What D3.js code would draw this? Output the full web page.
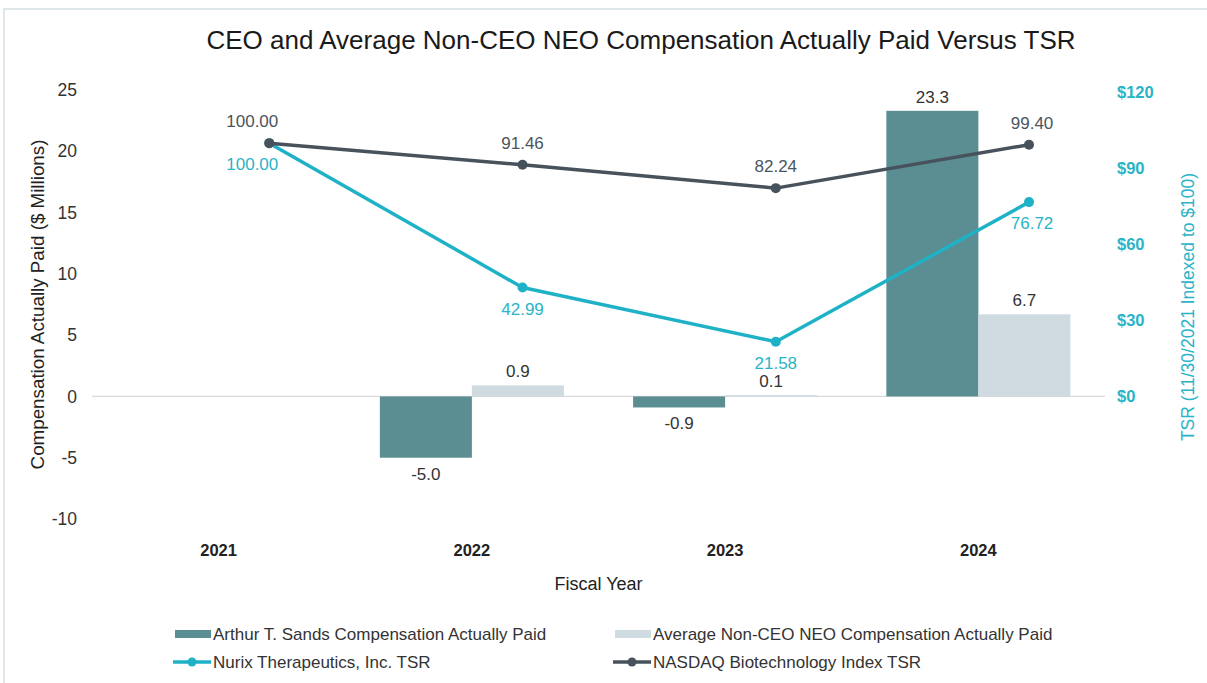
<!DOCTYPE html>
<meta charset="utf-8">
<script src="https://d3js.org/d3.v7.min.js"></script>
<style>
  body { margin: 0; background: #fff; }
  svg { font-family: Arial, "Liberation Sans", sans-serif; }
  .axis .domain { display: none; }
  .yl .tick text { font-size: 17.5px; fill: #333; }
  .yr .tick text { font-size: 16.5px; fill: #2bb3c7; font-weight: bold; }
  .xa .tick text { font-size: 16.5px; fill: #222; font-weight: bold; }
</style>
<div id="chart"></div>
<script>
  // data
  const years = ["2021", "2022", "2023", "2024"];
  const ceoCap = [null, -5.0, -0.9, 23.3];
  const neoCap = [null, 0.9, 0.1, 6.7];
  const nurixTsr = [100.00, 42.99, 21.58, 76.72];
  const nasdaqTsr = [100.00, 91.46, 82.24, 99.40];
  const leftTicks = [-10, -5, 0, 5, 10, 15, 20, 25];
  const rightTicks = [0, 30, 60, 90, 120];

  const W = 1207, H = 683;
  const plot = { left: 92, right: 1105, top: 90, bottom: 519 };

  // hyphen instead of unicode minus, like the original
  const f1 = v => v.toFixed(1);
  const f2 = v => v.toFixed(2);

  const svg = d3.select("#chart").append("svg")
      .attr("width", W)
      .attr("height", H);

  // outer frame
  svg.append("rect")
    .attr("x", 4).attr("y", 9)
    .attr("width", 1240).attr("height", 700)
    .attr("fill", "none")
    .attr("stroke", "#d6e0e3")
    .attr("stroke-width", 1.5);

  svg.append("text")
    .attr("x", 641).attr("y", 49)
    .attr("text-anchor", "middle")
    .attr("font-size", 26)
    .attr("fill", "#1a1a1a")
    .text("CEO and Average Non-CEO NEO Compensation Actually Paid Versus TSR");

  const x = d3.scaleBand().domain(years).range([plot.left, plot.right]);
  const sub = d3.scaleBand().domain(["ceo", "neo"]).range([0, x.bandwidth()]).paddingOuter(0.376);
  const y = d3.scaleLinear().domain([-10, 25]).range([plot.bottom, plot.top]);
  const y2 = d3.scaleLinear().domain([0, 120]).range([y(0), 92.5]);
  const lx = d => x(d) + x.bandwidth() * 0.7;

  // axes
  svg.append("g").attr("class", "axis yl")
    .attr("transform", `translate(${plot.left - 15},0)`)
    .call(d3.axisLeft(y).tickValues(leftTicks).tickSize(0).tickPadding(0).tickFormat(d => String(d)));

  svg.append("g").attr("class", "axis yr")
    .attr("transform", `translate(${plot.right + 12},0)`)
    .call(d3.axisRight(y2).tickValues(rightTicks).tickSize(0).tickPadding(0).tickFormat(d => "$" + d));

  svg.append("g").attr("class", "axis xa")
    .attr("transform", `translate(0,${y(-10) + 25})`)
    .call(d3.axisBottom(x).tickSize(0).tickPadding(0));

  // zero line
  svg.append("line")
    .attr("x1", plot.left).attr("x2", plot.right)
    .attr("y1", y(0)).attr("y2", y(0))
    .attr("stroke", "#d9d9d9").attr("stroke-width", 1.2);

  // axis titles
  svg.append("text")
    .attr("transform", `translate(44,${(y(25) + y(-10)) / 2}) rotate(-90)`)
    .attr("text-anchor", "middle")
    .attr("font-size", 18.8).attr("fill", "#222")
    .text("Compensation Actually Paid ($ Millions)");

  svg.append("text")
    .attr("transform", `translate(1194,307) rotate(-90)`)
    .attr("text-anchor", "middle")
    .attr("font-size", 17.5).attr("fill", "#2bb3c7")
    .text("TSR (11/30/2021 Indexed to $100)");

  svg.append("text")
    .attr("x", (plot.left + plot.right) / 2).attr("y", 590)
    .attr("text-anchor", "middle")
    .attr("font-size", 18).attr("fill", "#222")
    .text("Fiscal Year");

  // bars
  const barData = [];
  years.forEach((yr, i) => {
    if (ceoCap[i] != null) barData.push({ yr, key: "ceo", v: ceoCap[i] });
    if (neoCap[i] != null) barData.push({ yr, key: "neo", v: neoCap[i] });
  });
  const barColor = { ceo: "#5a8e93", neo: "#cfdbe0" };

  svg.append("g").selectAll("rect")
    .data(barData)
    .join("rect")
      .attr("x", d => x(d.yr) + sub(d.key))
      .attr("width", sub.bandwidth())
      .attr("y", d => y(Math.max(0, d.v)))
      .attr("height", d => Math.abs(y(d.v) - y(0)))
      .attr("fill", d => barColor[d.key]);

  svg.append("g").selectAll("text")
    .data(barData)
    .join("text")
      .attr("x", d => x(d.yr) + sub(d.key) + sub.bandwidth() / 2)
      .attr("y", d => d.v >= 0 ? y(d.v) - 8 : y(d.v) + 22)
      .attr("text-anchor", "middle")
      .attr("font-size", 17).attr("fill", "#333")
      .text(d => f1(d.v));

  // lines
  const series = [
    { vals: nasdaqTsr, color: "#47525c", labelColor: "#4a5560", dy: -16 },
    { vals: nurixTsr, color: "#1fb2c7", labelColor: "#2bb3c7", dy: 27 }
  ];
  const line = d3.line().x(d => lx(d.yr)).y(d => y2(d.v));

  // nurix first so nasdaq sits on top
  [series[1], series[0]].forEach(s => {
    const pts = years.map((yr, i) => ({ yr, v: s.vals[i] }));
    svg.append("path")
      .datum(pts)
      .attr("d", line)
      .attr("fill", "none")
      .attr("stroke", s.color)
      .attr("stroke-width", 3.5)
      .attr("stroke-linejoin", "round");
    svg.append("g").selectAll("circle")
      .data(pts)
      .join("circle")
        .attr("cx", d => lx(d.yr))
        .attr("cy", d => y2(d.v))
        .attr("r", 5)
        .attr("fill", s.color);
  });

  series.forEach(s => {
    svg.append("g").selectAll("text")
      .data(years.map((yr, i) => ({ yr, v: s.vals[i] })))
      .join("text")
        .attr("x", (d, i) => lx(d.yr) + (i === 0 ? -17 : i === 3 ? 3 : 0))
        .attr("y", d => y2(d.v) + s.dy)
        .attr("text-anchor", "middle")
        .attr("font-size", 17).attr("fill", s.labelColor)
        .text(d => f2(d.v));
  });

  // legend
  const legend = [
    { name: "Arthur T. Sands Compensation Actually Paid", type: "bar", color: "#5a8e93", lx: 175, ly: 634 },
    { name: "Average Non-CEO NEO Compensation Actually Paid", type: "bar", color: "#cfdbe0", lx: 615, ly: 634 },
    { name: "Nurix Therapeutics, Inc. TSR", type: "line", color: "#1fb2c7", lx: 175, ly: 662 },
    { name: "NASDAQ Biotechnology Index TSR", type: "line", color: "#47525c", lx: 615, ly: 662 }
  ];
  const lg = svg.append("g").selectAll("g").data(legend).join("g")
    .attr("transform", d => `translate(${d.lx},${d.ly})`);
  lg.filter(d => d.type === "bar").append("rect")
    .attr("x", 0).attr("y", -4).attr("width", 36).attr("height", 8)
    .attr("fill", d => d.color);
  lg.filter(d => d.type === "line").append("line")
    .attr("x1", -2).attr("x2", 36).attr("y1", 0).attr("y2", 0)
    .attr("stroke", d => d.color).attr("stroke-width", 3.5);
  lg.filter(d => d.type === "line").append("circle")
    .attr("cx", 17).attr("cy", 0).attr("r", 4.5)
    .attr("fill", d => d.color);
  lg.append("text")
    .attr("x", 38).attr("y", 6)
    .attr("font-size", 17).attr("fill", "#333")
    .text(d => d.name);
</script>
